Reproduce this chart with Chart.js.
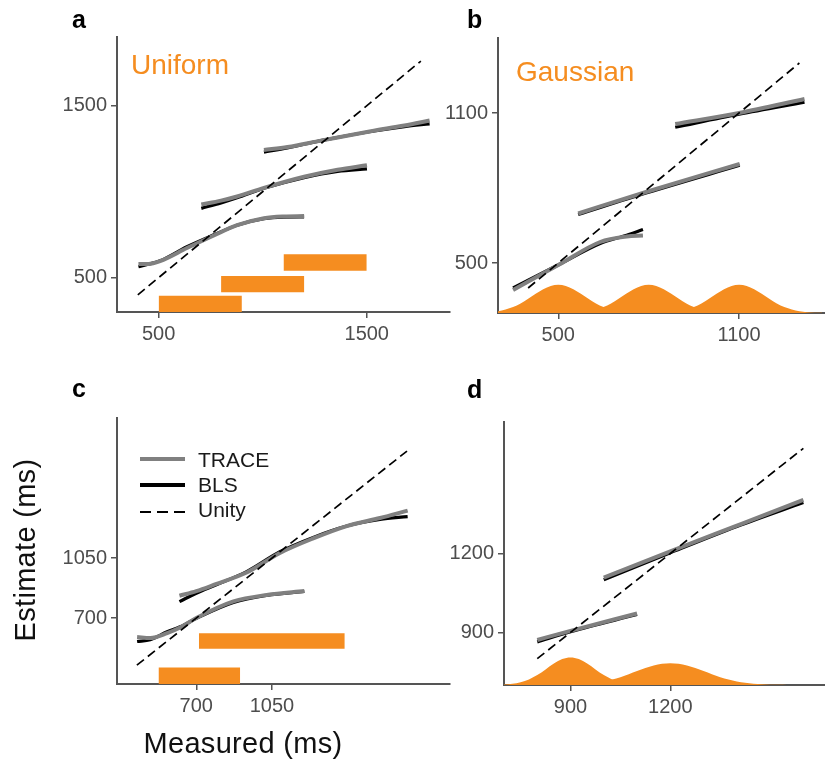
<!DOCTYPE html>
<html>
<head>
<meta charset="utf-8">
<script src="https://cdn.jsdelivr.net/npm/chart.js@4.4.1/dist/chart.umd.min.js"></script>
<style>
  body { margin: 0; width: 825px; height: 763px; background: #fff; position: relative; overflow: hidden;
         font-family: "Liberation Sans", Arial, sans-serif; }
  canvas { position: absolute; }
  .txt { position: absolute; white-space: nowrap; line-height: 1; }
  .letter { font-size: 25px; font-weight: bold; color: #000; }
  .prior { font-size: 28px; color: #f58d20; }
  .leg { font-size: 21px; color: #1a1a1a; left: 198px; }
  .swatch { position: absolute; left: 140px; width: 45px; }
  .title { font-size: 29px; color: #111; letter-spacing: 0.3px; }
</style>
</head>
<body>
<div class="txt letter" style="left:72px; top:7px;">a</div>
<div class="txt letter" style="left:467px; top:7px;">b</div>
<div class="txt letter" style="left:72px; top:376px;">c</div>
<div class="txt letter" style="left:467px; top:377px;">d</div>
<div class="txt prior" style="left:131px; top:51px;">Uniform</div>
<div class="txt prior" style="left:516px; top:58px;">Gaussian</div>

<div class="swatch" style="top:457px; height:4px; background:#808080;"></div>
<div class="swatch" style="top:483px; height:4px; background:#000;"></div>
<div class="swatch" style="top:511px; height:1.7px; background:repeating-linear-gradient(to right, #000 0 11px, transparent 11px 17px);"></div>
<div class="txt leg" style="top:449px;">TRACE</div>
<div class="txt leg" style="top:474px;">BLS</div>
<div class="txt leg" style="top:499px;">Unity</div>

<div class="txt title" style="left:243px; top:729px; transform:translateX(-50%);">Measured (ms)</div>
<div class="txt title" style="left:25px; top:550px; transform:translate(-50%,-50%) rotate(-90deg);">Estimate (ms)</div>

<script>
// ---------- data ----------
// a: uniform priors
const aTicks = [500, 1500];
const aPriorLo = [500, 800, 1100];
const aPriorHi = [900, 1200, 1500];
const aPriorBottom = [300, 415, 540];
const aPriorTop = [395, 510, 636];
const aUnity = [400, 1760];
const aCurve1X = [403, 450, 507, 636, 765, 877, 1006, 1100, 1199];
const aBls1 = [563, 578, 598, 680, 749, 805, 843, 852, 853];
const aTrace1 = [580, 580, 596, 672, 745, 805, 846, 856, 858];
const aCurve2X = [705, 800, 877, 1006, 1199, 1360, 1501];
const aBls2 = [903, 935, 965, 1020, 1082, 1118, 1133];
const aTrace2 = [925, 948, 972, 1022, 1087, 1128, 1154];
const aCurve3X = [1006, 1119, 1279, 1520, 1681, 1802];
const aBls3 = [1230, 1255, 1297, 1350, 1379, 1395];
const aTrace3 = [1243, 1260, 1297, 1352, 1385, 1414];

// b: gaussian priors
const bTicks = [500, 1100];
const bPriorMeans = [500, 800, 1100];
const bPriorOffsets = [-275, -250, -225, -200, -175, -150, -125, -100, -75, -50, -25, 0,
                       25, 50, 75, 100, 125, 150, 175, 200, 225, 250, 275];
const bPriorHeights = [0.6, 1.5, 3, 7, 14, 24, 38, 57, 77, 95, 108, 113,
                       108, 95, 77, 57, 38, 24, 14, 7, 3, 1.5, 0.6];
const bUnity = [400, 1300];
const bCurve1X = [350, 506, 639, 727, 781];
const bBls1 = [400, 496, 578, 611, 634];
const bTrace1 = [392, 496, 584, 606, 610];
const bCurve2X = [566, 794, 1102];
const bBls2 = [694, 781, 891];
const bTrace2 = [698, 785, 896];
const bCurve3X = [888, 1100, 1317];
const bBls3 = [1043, 1095, 1143];
const bTrace3 = [1056, 1100, 1156];

// c: narrow and wide uniform priors
const cTicks = [700, 1050];
const cPriorLo = [525, 712];
const cPriorHi = [903, 1387];
const cPriorBottom = [315, 521];
const cPriorTop = [412, 612];
const cUnity = [425, 1675];
const cCurve1X = [426, 487, 565, 625, 700, 872, 1026, 1200];
const cBls1 = [563, 574, 620, 649, 698, 791, 832, 855];
const cTrace1 = [589, 583, 612, 645, 700, 797, 835, 858];
const cCurve2X = [622, 700, 790, 933, 1087, 1241, 1396, 1550, 1678];
const cBls2 = [796, 845, 893, 971, 1087, 1171, 1237, 1276, 1292];
const cTrace2 = [830, 857, 898, 966, 1080, 1165, 1237, 1284, 1327];

// d: narrow and wide gaussian priors
const dTicks = [900, 1200];
const dPriorMeans = [900, 1200];
const dPriorOffsets1 = [-200, -175, -150, -125, -100, -75, -50, -25, 0, 25, 50, 75, 100, 125, 150, 175, 200];
const dPriorHeights1 = [1.8, 4.6, 10.6, 21.3, 37.9, 59.2, 81.4, 98.5, 105, 98.5, 81.4, 59.2, 37.9, 21.3, 10.6, 4.6, 1.8];
const dPriorOffsets2 = [-350, -325, -300, -275, -250, -225, -200, -175, -150, -125, -100, -75, -50, -25, 0,
                        25, 50, 75, 100, 125, 150, 175, 200, 225, 250, 275, 300, 325, 350];
const dPriorHeights2 = [0.3, 0.7, 1.4, 2.7, 4.9, 8.4, 13.5, 20.7, 29.9, 40.8, 52.8, 64.3, 74.1, 80.7, 83,
                        80.7, 74.1, 64.3, 52.8, 40.8, 29.9, 20.7, 13.5, 8.4, 4.9, 2.7, 1.4, 0.7, 0.3];
const dUnity = [800, 1600];
const dCurve1X = [800, 900, 1100];
const dBls1 = [864, 903, 968];
const dTrace1 = [871, 906, 972];
const dCurve2X = [1000, 1200, 1400, 1600];
const dBls2 = [1100, 1203, 1303, 1394];
const dTrace2 = [1108, 1208, 1306, 1404];

// ---------- styles ----------
const ORANGE = "#f58d20";
const GRAY = "#808080";
const AXIS_W = 70, AXIS_H = 45;

const pts = (xs, ys) => xs.map((x, i) => ({ x: x, y: ys[i] }));

const curve = (xs, ys, color, width) => ({
  data: pts(xs, ys), borderColor: color, borderWidth: width,
  pointRadius: 0, fill: false, cubicInterpolationMode: "monotone"
});
const unity = (ends) => ({
  data: pts(ends, ends), borderColor: "#000", borderWidth: 1.7, borderDash: [9, 5],
  pointRadius: 0, fill: false
});
const uniformBars = (lo, hi, bottom, top) => lo.map((l, i) => ({
  data: [{ x: l, y: top[i] }, { x: hi[i], y: top[i] }],
  borderColor: "rgba(0,0,0,0)", borderWidth: 0, backgroundColor: ORANGE,
  fill: { value: bottom[i] }, pointRadius: 0
}));
const bump = (mean, offsets, heights, base) => ({
  data: offsets.map((o, i) => ({ x: mean + o, y: base + heights[i] })),
  borderColor: "rgba(0,0,0,0)", borderWidth: 0, backgroundColor: ORANGE,
  fill: { value: base }, pointRadius: 0, cubicInterpolationMode: "monotone"
});

function axis(min, max, ticks, isX) {
  return {
    type: "linear", min: min, max: max,
    afterBuildTicks: (s) => { s.ticks = ticks.map((v) => ({ value: v })); },
    afterFit: (s) => { if (isX) s.height = AXIS_H; else s.width = AXIS_W; },
    grid: { drawOnChartArea: false, color: "#555", lineWidth: 1.5, tickLength: 6 },
    border: { display: true, color: "#555", width: 2 },
    ticks: {
      color: "#4d4d4d", font: { family: "Liberation Sans", size: 20 }, padding: 4,
      maxRotation: 0, autoSkip: false, callback: (v) => String(v)
    }
  };
}

// chart area boxes in page pixels: left, top, right, bottom
function panel(box, xr, yr, ticks, datasets) {
  const [left, top, right, bottom] = box;
  const padTop = 16, padRight = right >= 825 ? 0 : 3;
  const cv = document.createElement("canvas");
  const w = right - left + AXIS_W + padRight;
  const h = bottom - top + padTop + AXIS_H;
  cv.width = w; cv.height = h;
  cv.style.width = w + "px"; cv.style.height = h + "px";
  document.body.insertBefore(cv, document.body.firstChild);
  const chart = new Chart(cv, {
    type: "line",
    data: { datasets: datasets },
    options: {
      responsive: false, maintainAspectRatio: false, animation: false, events: [],
      layout: { padding: { top: padTop, right: padRight, left: 0, bottom: 0 } },
      plugins: { legend: { display: false }, tooltip: { enabled: false } },
      scales: { x: axis(xr[0], xr[1], ticks, true), y: axis(yr[0], yr[1], ticks, false) }
    }
  });
  // make the plot area land exactly on the box
  let ca = chart.chartArea;
  const nw = w + (right - left) - (ca.right - ca.left);
  const nh = h + (bottom - top) - (ca.bottom - ca.top);
  if (nw !== w || nh !== h) {
    chart.resize(nw, nh);
    ca = chart.chartArea;
  }
  cv.style.left = (left - ca.left) + "px";
  cv.style.top = (top - ca.top) + "px";
  return chart;
}

// first dataset is drawn on top
panel([117, 37, 450, 312], [300, 1900], [300, 1900], aTicks, [
  unity(aUnity),
  curve(aCurve1X, aTrace1, GRAY, 4), curve(aCurve2X, aTrace2, GRAY, 4), curve(aCurve3X, aTrace3, GRAY, 4),
  curve(aCurve1X, aBls1, "#000", 3.2), curve(aCurve2X, aBls2, "#000", 3.2), curve(aCurve3X, aBls3, "#000", 3.2),
  ...uniformBars(aPriorLo, aPriorHi, aPriorBottom, aPriorTop)
]);

panel([498, 38, 825, 313], [300, 1385], [300, 1400], bTicks, [
  unity(bUnity),
  curve(bCurve1X, bTrace1, GRAY, 4), curve(bCurve2X, bTrace2, GRAY, 4), curve(bCurve3X, bTrace3, GRAY, 4),
  curve(bCurve1X, bBls1, "#000", 3.2), curve(bCurve2X, bBls2, "#000", 3.2), curve(bCurve3X, bBls3, "#000", 3.2),
  ...bPriorMeans.map((m) => bump(m, bPriorOffsets, bPriorHeights, 300))
]);

panel([117, 418, 450, 684], [333, 1874], [315, 1868], cTicks, [
  unity(cUnity),
  curve(cCurve1X, cTrace1, GRAY, 4), curve(cCurve2X, cTrace2, GRAY, 4),
  curve(cCurve1X, cBls1, "#000", 3.2), curve(cCurve2X, cBls2, "#000", 3.2),
  ...uniformBars(cPriorLo, cPriorHi, cPriorBottom, cPriorTop)
]);

panel([504, 422, 825, 685], [700, 1665], [700, 1700], dTicks, [
  unity(dUnity),
  curve(dCurve1X, dTrace1, GRAY, 4), curve(dCurve2X, dTrace2, GRAY, 4),
  curve(dCurve1X, dBls1, "#000", 3.2), curve(dCurve2X, dBls2, "#000", 3.2),
  bump(dPriorMeans[0], dPriorOffsets1, dPriorHeights1, 700),
  bump(dPriorMeans[1], dPriorOffsets2, dPriorHeights2, 700)
]);
</script>
</body>
</html>
